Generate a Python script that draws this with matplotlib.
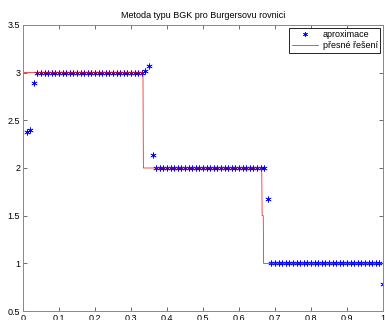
import matplotlib
matplotlib.use('Agg')
import matplotlib.pyplot as plt
import numpy as np

# approximation on grid x = 0.01 .. 1.00
x_approx = np.round(np.arange(1, 101) * 0.01, 2)
y_approx = ([2.38, 2.40, 2.89] + [3.0] * 30 + [3.02, 3.07, 2.14]
            + [2.0] * 31 + [1.68] + [1.0] * 31 + [0.78])

# exact solution (step profile)
x_exact = [0.0, 0.333, 0.334, 0.663, 0.664, 0.667, 0.668, 1.0]
y_exact = [3.0, 3.0, 2.0, 2.0, 1.5, 1.5, 1.0, 1.0]

x_ticks = [0, 0.1, 0.2, 0.3, 0.4, 0.5, 0.6, 0.7, 0.8, 0.9, 1]
y_ticks = [0.5, 1, 1.5, 2, 2.5, 3, 3.5]

plt.rcParams['font.family'] = ['Liberation Sans', 'DejaVu Sans']
fig = plt.figure(figsize=(3.85, 3.2), dpi=100)
ax = fig.add_axes([0.06, 0.028, 0.935, 0.894])

# MATLAB-like asterisk marker
ax.plot(x_approx, y_approx, linestyle='none', marker=(6, 2, 0),
        color='#0000ff', markersize=4.5, markeredgewidth=0.4,
        label='aproximace')
ax.plot(x_exact, y_exact, '-', color='#ff0000', linewidth=0.5,
        label='přesné řešení')

ax.set_xlim(0, 1)
ax.set_ylim(0.5, 3.5)
ax.set_xticks(x_ticks)
ax.set_xticklabels(['0', '0.1', '0.2', '0.3', '0.4', '0.5', '0.6', '0.7',
                    '0.8', '0.9', '1'])
ax.set_yticks(y_ticks)
ax.set_yticklabels(['0.5', '1', '1.5', '2', '2.5', '3', '3.5'])
ax.tick_params(direction='in', length=3, width=0.6, labelsize=6.5,
               top=True, right=True, pad=2, colors='#555555',
               labelcolor='black')
for s in ax.spines.values():
    s.set_linewidth(0.7)
    s.set_color('#888888')

ax.set_title('Metoda typu BGK pro Burgersovu rovnici', fontsize=6.5, pad=5)

leg = ax.legend(loc='upper right', fontsize=6.5, fancybox=False,
                framealpha=1, edgecolor='black', borderpad=0.3,
                handlelength=2.9, handletextpad=0.5, labelspacing=0.2,
                borderaxespad=0.3, markerscale=0.8)
leg.get_frame().set_linewidth(0.6)

fig.savefig('out.png', dpi=100)
plt.close(fig)
